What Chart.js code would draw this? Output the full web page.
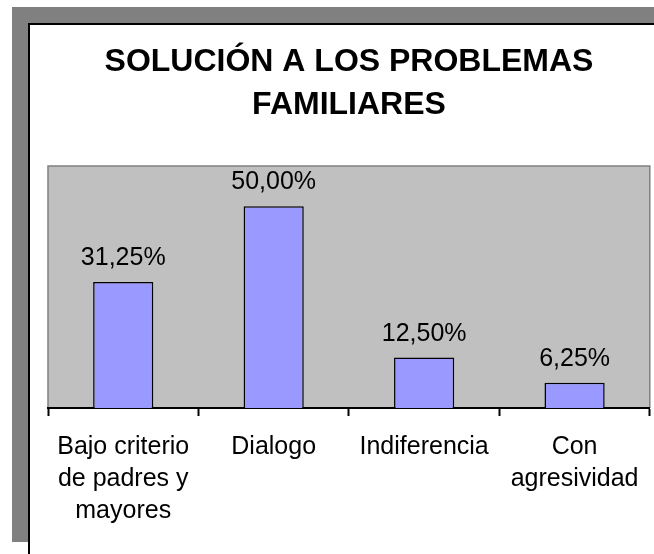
<!DOCTYPE html>
<html>
<head>
<meta charset="utf-8">
<script src="https://cdn.jsdelivr.net/npm/chart.js@4/dist/chart.umd.min.js"></script>
<style>
  html, body { margin: 0; padding: 0; background: #fff; }
  canvas { display: block; }
</style>
</head>
<body>
<canvas id="c" width="654" height="554"></canvas>
<script>
const titleLines = ["SOLUCIÓN A LOS PROBLEMAS", "FAMILIARES"];
const categories = [["Bajo criterio", "de padres y", "mayores"], "Dialogo", "Indiferencia", ["Con", "agresividad"]];
const values = [31.25, 50.00, 12.50, 6.25];
const valueLabels = ["31,25%", "50,00%", "12,50%", "6,25%"];

const FONT = "'Liberation Sans', Arial, sans-serif";

const framePlugin = {
  id: 'frame',
  beforeDraw(chart) {
    const ctx = chart.ctx;
    const a = chart.chartArea;
    ctx.save();
    ctx.fillStyle = '#808080';
    ctx.fillRect(12, 7, 654 - 12, 542 - 7);
    ctx.fillStyle = '#ffffff';
    ctx.fillRect(28, 23, 654 - 28, 554 - 23);
    ctx.fillStyle = '#000000';
    ctx.fillRect(28, 23, 2, 554 - 23);
    ctx.fillRect(28, 23, 654 - 28, 2);
    ctx.fillStyle = '#C0C0C0';
    ctx.fillRect(a.left, a.top, a.right - a.left, a.bottom - a.top);
    ctx.strokeStyle = '#808080';
    ctx.lineWidth = 1.5;
    ctx.beginPath();
    ctx.moveTo(a.left, a.bottom);
    ctx.lineTo(a.left, a.top);
    ctx.lineTo(a.right, a.top);
    ctx.lineTo(a.right, a.bottom);
    ctx.stroke();
    ctx.restore();
  }
};

const valueLabelPlugin = {
  id: 'valueLabels',
  afterDatasetsDraw(chart) {
    const ctx = chart.ctx;
    const meta = chart.getDatasetMeta(0);
    ctx.save();
    ctx.font = "25px " + FONT;
    ctx.fillStyle = '#000';
    ctx.textAlign = 'center';
    ctx.textBaseline = 'alphabetic';
    meta.data.forEach((el, i) => {
      ctx.fillText(valueLabels[i], el.x, el.y - 17);
    });
    ctx.restore();
  }
};

new Chart(document.getElementById('c'), {
  type: 'bar',
  data: {
    labels: categories,
    datasets: [{
      data: values,
      backgroundColor: '#9999FF',
      borderColor: '#000000',
      borderWidth: 1.5,
      barPercentage: 0.4,
      categoryPercentage: 1.0
    }]
  },
  options: {
    responsive: false,
    animation: false,
    devicePixelRatio: 1,
    layout: { padding: { left: 48, right: 4, top: 0, bottom: 12 } },
    plugins: {
      legend: { display: false },
      tooltip: { enabled: false },
      title: {
        display: true,
        text: titleLines,
        color: '#000',
        font: { family: FONT, size: 32, weight: 'bold', lineHeight: 43 / 32 },
        padding: { top: 41, bottom: 39 }
      }
    },
    scales: {
      x: {
        offset: true,
        grid: {
          display: true,
          offset: true,
          drawOnChartArea: false,
          drawTicks: true,
          tickLength: 8,
          tickColor: '#000',
          tickWidth: 2,
          color: '#000'
        },
        border: { display: true, color: '#000', width: 2 },
        ticks: {
          color: '#000',
          font: { family: FONT, size: 25, lineHeight: 32 / 25 },
          padding: 15,
          maxRotation: 0,
          minRotation: 0,
          autoSkip: false
        }
      },
      y: {
        display: false,
        min: 0,
        max: 60
      }
    }
  },
  plugins: [framePlugin, valueLabelPlugin]
});
</script>
</body>
</html>
